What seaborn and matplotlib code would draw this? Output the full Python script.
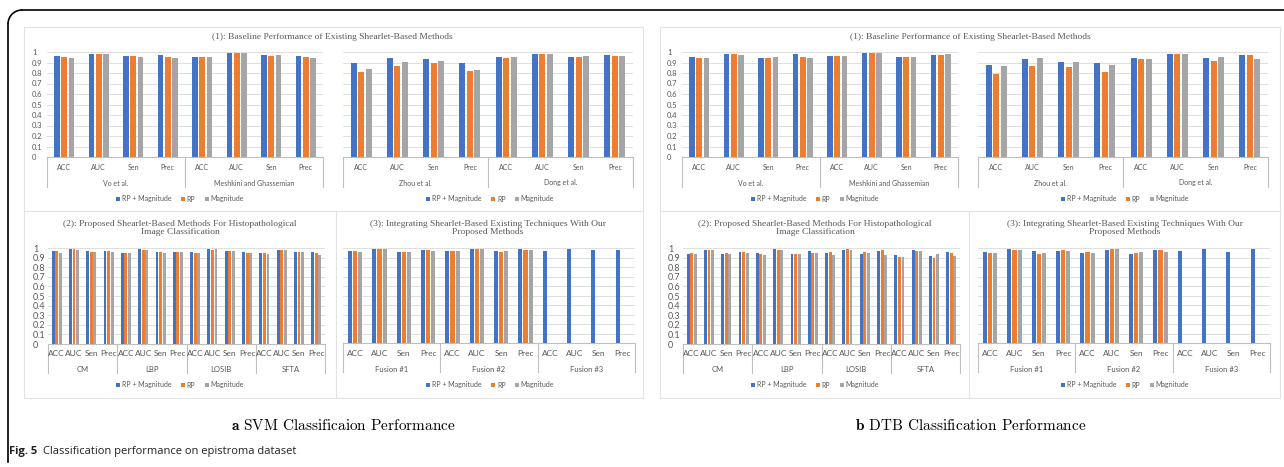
import matplotlib
matplotlib.use("Agg")
import matplotlib.pyplot as plt
import numpy as np
import pandas as pd
import seaborn as sns
from matplotlib.patches import Arc, Patch

# ---- data -------------------------------------------------------------
METRICS = ["ACC", "AUC", "Sen", "Prec"]
METHODS = ["RP + Magnitude", "RP", "Magnitude"]
PALETTE = {"RP + Magnitude": "#4472C4", "RP": "#ED7D31", "Magnitude": "#A5A5A5"}

base_left_groups = ["Vo et al.", "Meshkini and Ghassemian"]
base_right_groups = ["Zhou et al.", "Dong et al."]
proposed_groups = ["CM", "LBP", "LOSIB", "SFTA"]
fusion_groups = ["Fusion #1", "Fusion #2", "Fusion #3"]

# SVM
svm_bl_rpmag = [0.962, 0.984, 0.965, 0.968, 0.955, 0.990, 0.968, 0.962]
svm_bl_rp = [0.952, 0.984, 0.965, 0.955, 0.950, 0.987, 0.965, 0.952]
svm_bl_mag = [0.942, 0.978, 0.955, 0.946, 0.950, 0.990, 0.968, 0.946]

svm_br_rpmag = [0.895, 0.946, 0.933, 0.895, 0.955, 0.984, 0.952, 0.971]
svm_br_rp = [0.808, 0.869, 0.891, 0.815, 0.942, 0.984, 0.949, 0.958]
svm_br_mag = [0.840, 0.904, 0.917, 0.831, 0.955, 0.984, 0.965, 0.958]

svm_pr_rpmag = [0.965, 0.986, 0.965, 0.972, 0.948, 0.986, 0.958, 0.958,
                0.958, 0.986, 0.969, 0.955, 0.948, 0.983, 0.958, 0.958]
svm_pr_rp = [0.965, 0.986, 0.962, 0.972, 0.948, 0.983, 0.958, 0.955,
             0.948, 0.983, 0.969, 0.948, 0.945, 0.979, 0.958, 0.952]
svm_pr_mag = [0.952, 0.979, 0.955, 0.962, 0.948, 0.979, 0.952, 0.962,
              0.948, 0.986, 0.972, 0.945, 0.934, 0.976, 0.958, 0.931]

svm_fu_rpmag = [0.965, 0.993, 0.961, 0.982, 0.972, 0.993, 0.965, 0.986,
                0.972, 0.993, 0.979, 0.982]
svm_fu_rp = [0.965, 0.993, 0.961, 0.979, 0.965, 0.993, 0.958, 0.979,
             None, None, None, None]
svm_fu_mag = [0.954, 0.986, 0.954, 0.972, 0.968, 0.993, 0.968, 0.979,
              None, None, None, None]

# DTB
dtb_bl_rpmag = [0.949, 0.984, 0.939, 0.978, 0.958, 0.987, 0.955, 0.974]
dtb_bl_rp = [0.939, 0.984, 0.942, 0.955, 0.958, 0.987, 0.955, 0.974]
dtb_bl_mag = [0.939, 0.971, 0.952, 0.942, 0.958, 0.987, 0.952, 0.981]

dtb_br_rpmag = [0.879, 0.936, 0.904, 0.895, 0.946, 0.981, 0.946, 0.968]
dtb_br_rp = [0.792, 0.869, 0.859, 0.805, 0.930, 0.978, 0.914, 0.968]
dtb_br_mag = [0.869, 0.939, 0.904, 0.879, 0.933, 0.981, 0.955, 0.933]

dtb_pr_rpmag = [0.941, 0.976, 0.934, 0.955, 0.948, 0.986, 0.941, 0.969,
                0.945, 0.983, 0.938, 0.965, 0.931, 0.976, 0.920, 0.962]
dtb_pr_rp = [0.945, 0.976, 0.945, 0.955, 0.934, 0.983, 0.938, 0.952,
             0.962, 0.986, 0.958, 0.976, 0.910, 0.972, 0.893, 0.948]
dtb_pr_mag = [0.934, 0.976, 0.934, 0.952, 0.931, 0.976, 0.934, 0.945,
              0.924, 0.976, 0.945, 0.931, 0.910, 0.965, 0.941, 0.917]

dtb_fu_rpmag = [0.961, 0.989, 0.965, 0.972, 0.951, 0.982, 0.937, 0.979,
                0.968, 0.993, 0.954, 0.986]
dtb_fu_rp = [0.951, 0.982, 0.940, 0.975, 0.961, 0.986, 0.951, 0.979,
             None, None, None, None]
dtb_fu_mag = [0.951, 0.982, 0.951, 0.972, 0.951, 0.986, 0.961, 0.961,
              None, None, None, None]

YTICK_LABELS = ["0", "0.1", "0.2", "0.3", "0.4", "0.5", "0.6", "0.7", "0.8", "0.9", "1"]

# ---- layout helpers ------------------------------------------------------
W, H = 1284, 467
SANS = "Lato"
SERIF = "Liberation Serif"
TXT = "#595959"
plt.rcParams["mathtext.fontset"] = "cm"

fig = plt.figure(figsize=(W / 100, H / 100), dpi=100)
bg = fig.add_axes([0, 0, 1, 1], zorder=-1)
bg.set_xlim(0, W)
bg.set_ylim(H, 0)
bg.axis("off")


def px_axes(l, t, r, b):
    return fig.add_axes([l / W, 1 - b / H, (r - l) / W, (b - t) / H])


def draw_chart(ax, groups, series, show_y, fs_tick, fs_metric, fs_group,
               h_px, metric_dy, group_dy, sep_dy):
    rows = []
    for gi, g in enumerate(groups):
        for mi, m in enumerate(METRICS):
            for name, vals in zip(METHODS, series):
                v = vals[gi * 4 + mi]
                if v is not None:
                    rows.append({"key": f"{g}|{m}", "method": name, "value": v})
    df = pd.DataFrame(rows)
    order = [f"{g}|{m}" for g in groups for m in METRICS]

    sns.barplot(data=df, x="key", y="value", hue="method", order=order,
                hue_order=METHODS, palette=PALETTE, width=0.62, gap=0.2,
                saturation=1, errorbar=None, legend=False, ax=ax, zorder=3)

    n = len(order)
    ax.set_xlabel("")
    ax.set_ylabel("")
    ax.set_xlim(-0.5, n - 0.5)
    ax.set_ylim(0, 1)
    ax.set_yticks(np.linspace(0, 1, 11))
    if show_y:
        ax.set_yticklabels(YTICK_LABELS, fontsize=fs_tick, family=SANS, color=TXT)
        for lbl in ax.get_yticklabels():
            lbl.set_horizontalalignment("left")
    else:
        ax.set_yticklabels([])
    ax.set_xticks(range(n))
    ax.set_xticklabels([])
    ax.tick_params(length=0)
    ax.tick_params(axis="y", pad=10.8)
    ax.yaxis.grid(True, color="#D9D9D9", lw=0.6)
    ax.set_axisbelow(True)
    for s in ["top", "left", "right"]:
        ax.spines[s].set_visible(False)
    ax.spines["bottom"].set_color("#BFBFBF")
    ax.spines["bottom"].set_linewidth(0.8)
    ax.patch.set_alpha(0)

    for i, key in enumerate(order):
        ax.annotate(key.split("|")[1], xy=(i, 0), xycoords=("data", "axes fraction"),
                    xytext=(0, -metric_dy * 0.72), textcoords="offset points",
                    ha="center", va="center", fontsize=fs_metric, family=SANS, color=TXT)
    for gi, g in enumerate(groups):
        ax.annotate(g, xy=(gi * 4 + 1.5, 0), xycoords=("data", "axes fraction"),
                    xytext=(0, -group_dy * 0.72), textcoords="offset points",
                    ha="center", va="center", fontsize=fs_group, family=SANS, color=TXT)
    for xs in np.arange(-0.5, n, 4):
        ax.plot([xs, xs], [0, -sep_dy / h_px], transform=ax.get_xaxis_transform(),
                color="#BFBFBF", lw=0.8, clip_on=False)


def legend_at(x, y):
    handles = [Patch(facecolor=PALETTE[m]) for m in METHODS]
    fig.legend(handles, METHODS, loc="center", bbox_to_anchor=(x / W, 1 - y / H),
               ncol=3, frameon=False, handlelength=0.6, handleheight=0.6,
               handletextpad=0.3, columnspacing=1.3, labelcolor=TXT,
               prop={"family": SANS, "size": 5})


def panel(x0, series_sets, cx_title1, cx_title2, cx_title3):
    # top row: two halves of chart (1)
    a1 = px_axes(x0 + 23, 52, x0 + 299, 157)
    draw_chart(a1, base_left_groups, series_sets[0], True, 5.5, 5, 5, 105, 11, 26, 30)
    a2 = px_axes(x0 + 319, 52, x0 + 609, 157)
    draw_chart(a2, base_right_groups, series_sets[1], False, 5.5, 5, 5, 105, 11, 26, 30)
    # bottom row
    a3 = px_axes(x0 + 24, 248, x0 + 301, 344)
    draw_chart(a3, proposed_groups, series_sets[2], True, 6.5, 6, 5.5, 96, 10, 25, 29)
    a4 = px_axes(x0 + 319, 248, x0 + 611, 343)
    draw_chart(a4, fusion_groups, series_sets[3], False, 6.5, 6, 5.5, 95, 11, 26, 29)

    bg.text(cx_title1, 37, "(1): Baseline Performance of Existing Shearlet-Based Methods",
            ha="center", va="center", fontsize=6.8, family=SERIF, color=TXT)
    bg.text(cx_title2, 228, "(2): Proposed Shearlet-Based Methods For Histopathological\nImage Classification",
            ha="center", va="center", fontsize=6.8, family=SERIF, color=TXT, linespacing=0.95)
    bg.text(cx_title3, 228, "(3): Integrating Shearlet-Based Existing Techniques With Our\nProposed Methods",
            ha="center", va="center", fontsize=6.8, family=SERIF, color=TXT, linespacing=0.95)

    legend_at(x0 + 156, 199)
    legend_at(x0 + 466, 199)
    legend_at(x0 + 156, 385)
    legend_at(x0 + 466, 385)


svm_sets = [
    [svm_bl_rpmag, svm_bl_rp, svm_bl_mag],
    [svm_br_rpmag, svm_br_rp, svm_br_mag],
    [svm_pr_rpmag, svm_pr_rp, svm_pr_mag],
    [svm_fu_rpmag, svm_fu_rp, svm_fu_mag],
]
dtb_sets = [
    [dtb_bl_rpmag, dtb_bl_rp, dtb_bl_mag],
    [dtb_br_rpmag, dtb_br_rp, dtb_br_mag],
    [dtb_pr_rpmag, dtb_pr_rp, dtb_pr_mag],
    [dtb_fu_rpmag, dtb_fu_rp, dtb_fu_mag],
]

panel(24, svm_sets, 332, 180, 488)
panel(659, dtb_sets, 970, 815, 1125)

# panel frames
box = "#E3E3E3"
for (l, r, mid) in [(24, 643, 336), (660, 1280, 969)]:
    bg.plot([l, r, r, l, l], [27, 27, 398, 398, 27], color=box, lw=0.8)
    bg.plot([l, r], [211, 211], color=box, lw=0.8)
    bg.plot([mid, mid], [211, 398], color=box, lw=0.8)

# outer figure frame with rounded corner
bg.plot([22, W], [10, 10], color="black", lw=1.2)
bg.plot([8, 8], [24, 462], color="black", lw=1.2)
bg.add_patch(Arc((22, 24), 28, 28, theta1=180, theta2=270, color="black", lw=1.2))

# captions
bg.text(343, 425, r"$\mathbf{a}$ SVM Classificaion Performance", ha="center",
        va="center", fontsize=11, family="cmr10")
bg.text(971, 425, r"$\mathbf{b}$ DTB Classification Performance", ha="center",
        va="center", fontsize=11, family="cmr10")
t1 = bg.text(9, 457, "Fig. 5", ha="left", va="bottom", fontsize=8,
             family="Open Sans", fontweight="bold", color="#231F20")
bg.annotate("Classification performance on epistroma dataset", xy=(1, 0),
            xycoords=t1, xytext=(4, 0), textcoords="offset points", ha="left",
            va="bottom", fontsize=8, family="Open Sans", color="#231F20")

fig.savefig("out.png", dpi=100)
